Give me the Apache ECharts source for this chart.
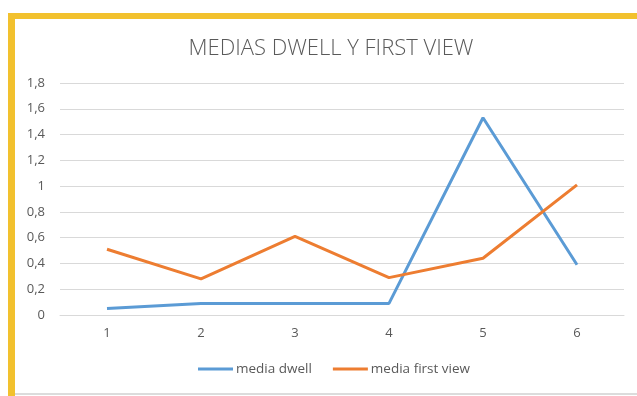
<!DOCTYPE html>
<html>
<head>
<meta charset="utf-8">
<script src="https://cdn.jsdelivr.net/npm/echarts@6/dist/echarts.min.js"></script>
<style>
  html, body { margin: 0; padding: 0; background: #fff; }
  #chart { width: 637px; height: 396px; }
</style>
</head>
<body>
<div id="chart"></div>
<script>
// Sample positions on the x axis
const categories = ['1', '2', '3', '4', '5', '6'];
// Averages per position
const mediaDwell = [0.05, 0.09, 0.09, 0.09, 1.53, 0.39];
const mediaFirstView = [0.51, 0.28, 0.61, 0.29, 0.44, 1.01];

const chart = echarts.init(document.getElementById('chart'), null, { renderer: 'canvas' });

const labelColor = '#595959';
const gridColor = '#d9d9d9';

chart.setOption({
  backgroundColor: '#ffffff',
  animation: false,
  title: {
    text: 'MEDIAS DWELL Y FIRST VIEW',
    left: 326,
    textAlign: 'center',
    top: 33,
    textStyle: {
      fontFamily: 'Open Sans, Liberation Sans, sans-serif',
      fontWeight: 300,
      fontSize: 22,
      color: labelColor
    }
  },
  legend: {
    bottom: 15,
    left: 193,
    icon: 'rect',
    itemWidth: 35,
    itemHeight: 3,
    itemGap: 21,
    textStyle: {
      fontFamily: 'Open Sans, Liberation Sans, sans-serif',
      fontSize: 13.5,
      color: labelColor,
      padding: [0, 0, 0, -2]
    },
    data: ['media dwell', 'media first view']
  },
  grid: { left: 60, right: 13, top: 83, bottom: 81 },
  xAxis: {
    type: 'category',
    data: categories,
    boundaryGap: true,
    axisLine: { lineStyle: { color: gridColor, width: 1 } },
    axisTick: { show: false },
    axisLabel: {
      color: labelColor,
      fontFamily: 'Open Sans, Liberation Sans, sans-serif',
      fontSize: 13,
      margin: 12
    }
  },
  yAxis: {
    type: 'value',
    min: 0,
    max: 1.8,
    interval: 0.2,
    axisLine: { show: false },
    axisTick: { show: false },
    splitLine: { lineStyle: { color: gridColor, width: 1 } },
    axisLabel: {
      color: labelColor,
      fontFamily: 'Open Sans, Liberation Sans, sans-serif',
      fontSize: 13,
      margin: 15,
      formatter: v => String(Math.round(v * 10) / 10).replace('.', ',')
    }
  },
  series: [
    {
      name: 'media dwell',
      type: 'line',
      data: mediaDwell,
      showSymbol: false,
      symbol: 'none',
      lineStyle: { color: '#5b9bd5', width: 3 },
      itemStyle: { color: '#5b9bd5' }
    },
    {
      name: 'media first view',
      type: 'line',
      data: mediaFirstView,
      showSymbol: false,
      symbol: 'none',
      lineStyle: { color: '#ed7d31', width: 3 },
      itemStyle: { color: '#ed7d31' }
    }
  ],
  graphic: [
    // yellow frame, top and left edges
    { type: 'rect', shape: { x: 8, y: 13, width: 629, height: 6 }, style: { fill: '#f2c12e' }, silent: true },
    { type: 'rect', shape: { x: 8, y: 13, width: 7, height: 383 }, style: { fill: '#f2c12e' }, silent: true },
    // thin grey base line
    { type: 'rect', shape: { x: 15, y: 393, width: 622, height: 2 }, style: { fill: '#dcdcdc' }, silent: true }
  ]
});
</script>
</body>
</html>
